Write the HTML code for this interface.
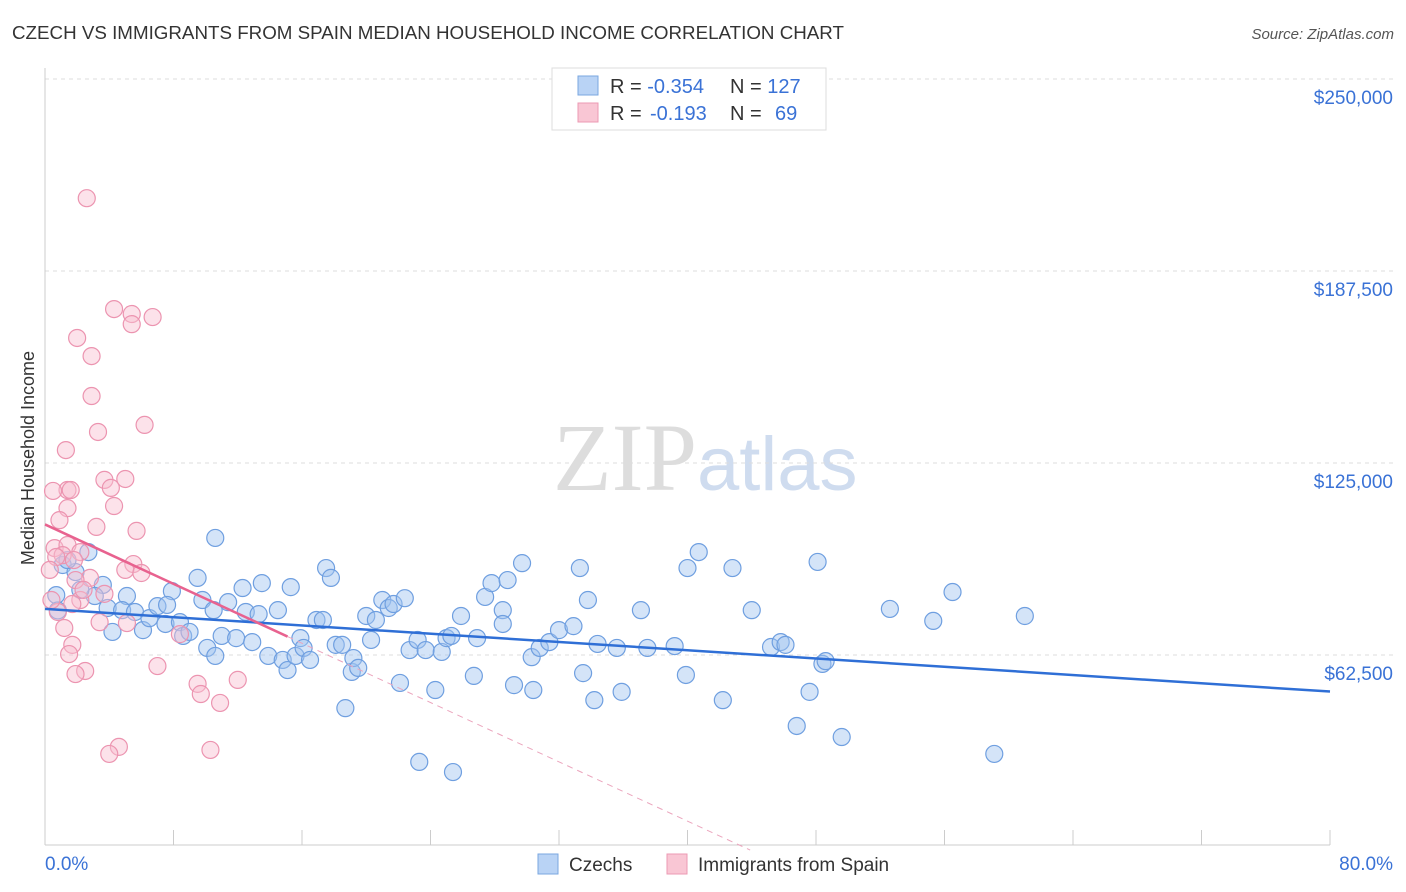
<!DOCTYPE html>
<html><head><meta charset="utf-8">
<style>
body{margin:0;background:#fff;font-family:"Liberation Sans",sans-serif;}
svg{display:block}
</style></head>
<body>
<svg id="chart" width="1406" height="892" viewBox="0 0 1406 892">
<text x="12" y="39" font-size="18" fill="#333" textLength="832" lengthAdjust="spacingAndGlyphs">CZECH VS IMMIGRANTS FROM SPAIN MEDIAN HOUSEHOLD INCOME CORRELATION CHART</text>
<text x="1394" y="39" font-size="15" fill="#555" text-anchor="end" font-style="italic">Source: ZipAtlas.com</text>
<text x="553" y="490" font-size="96" fill="#ddd" font-family="Liberation Serif">ZIP<tspan fill="#cfdcef" font-family="Liberation Sans" font-size="76">atlas</tspan></text>
<g id="grid"></g>
<g id="axes"></g>
<g id="pts"></g>
<g id="trend"></g>
<text transform="translate(34,458) rotate(-90)" font-size="18" fill="#333" text-anchor="middle">Median Household Income</text>
<g>
<rect x="552" y="68" width="274" height="62" fill="#fff" stroke="#ddd"/>
<rect x="578" y="76" width="20" height="19" fill="#b9d3f5" stroke="#7aa7e0"/>
<rect x="578" y="103" width="20" height="19" fill="#f9c6d4" stroke="#ec9ab3"/>
<text x="610" y="93" font-size="20" fill="#333">R = <tspan fill="#3a72d6">-0.354</tspan><tspan x="730">N = </tspan><tspan fill="#3a72d6">127</tspan></text>
<text x="610" y="120" font-size="20" fill="#333">R = <tspan fill="#3a72d6" x="650">-0.193</tspan><tspan x="730">N = </tspan><tspan fill="#3a72d6" x="775">69</tspan></text>
</g>
<g>
<rect x="538" y="854" width="20" height="20" fill="#b9d3f5" stroke="#7aa7e0"/>
<text x="569" y="871" font-size="19" fill="#333">Czechs</text>
<rect x="667" y="854" width="20" height="20" fill="#f9c6d4" stroke="#ec9ab3"/>
<text x="698" y="871" font-size="19" fill="#333">Immigrants from Spain</text>
</g>
</svg>
<script>
const blueX=[10.6,3.6,2.7,1.1,1.9,3.1,3.9,4.2,5.1,4.8,5.6,6.1,6.5,7,7.5,7.9,7.6,8.4,8.6,9,9.5,9.8,10.1,10.5,10.6,11,11.4,11.9,12.3,12.5,12.9,13.3,13.5,13.9,14.5,14.8,15.1,15.3,15.6,15.9,16.1,16.5,16.9,17.3,17.5,17.8,18.1,18.5,18.7,19.1,19.2,19.5,20,20.3,20.6,21,21.4,21.7,22.1,22.4,22.7,23.2,23.3,23.7,24.3,24.7,25,25.3,25.4,25.9,26.7,26.9,27.4,27.8,28.5,28.5,28.8,29.2,29.7,30.3,30.4,30.8,31.4,32,32.9,33.3,33.5,33.8,34.2,34.4,35.6,35.9,37.1,37.5,39.2,39.9,40,40.7,42.2,42.8,44,45.2,45.8,46.1,46.8,47.6,48.1,48.4,48.6,49.6,52.6,55.3,56.5,59.1,61,0.7,0.8,1.4,2.2];
const blueY=[100.6,85.3,96,91.8,89.5,81.7,77.8,70,81.7,77.1,76.5,70.6,74.5,78.4,72.6,83.3,78.8,73.2,68.7,70,87.6,80.4,64.8,77.1,62.2,68.7,79.7,68,84.3,76.5,66.7,75.8,85.9,62.2,77.1,60.9,57.6,84.6,62.2,68,64.8,60.9,73.9,73.9,90.8,87.6,65.8,65.8,45.2,57,61.5,58.3,75.2,67.4,73.9,80.4,77.8,79.1,53.4,81,64.1,67.4,27.7,64.1,51.1,63.5,68,68.7,24.4,75.2,55.7,68,81.4,85.9,77.1,72.6,86.9,52.7,92.4,61.8,51.1,64.8,66.7,70.6,71.9,90.8,56.6,80.4,47.8,66.1,64.8,50.5,77.1,64.8,65.4,56,90.8,96,47.8,90.8,77.1,65.1,66.7,65.8,39.4,50.5,92.8,59.6,60.5,35.8,77.5,73.6,83,30.3,75.2,82,77,93.4,83.7];
const pinkX=[2.6,4.3,5.4,6.7,5.4,2,2.9,2.9,3.3,6.2,1.3,3.7,5,4.1,1.4,1.6,0.5,4.3,1.4,3.2,0.9,5.7,0.6,1.4,1.1,2.2,0.7,1.8,5.5,5,6,2.8,1.9,3.7,2.2,1.7,0.8,3.4,5.1,1.2,8.4,1.7,1.5,7,2.5,1.9,9.5,12,9.7,10.9,4.6,4,10.3,0.3,0.4,2.4];
const pinkY=[211.2,175.1,173.5,172.5,170.2,165.7,159.8,146.8,135.1,137.4,129.2,119.5,119.8,116.9,116.2,116.2,115.9,111,110.3,104.2,106.4,102.9,97.3,98.3,95,96,94.4,93.4,92.1,90.2,89.2,87.6,86.9,82.4,80.4,79.1,76.5,73.2,72.9,71.3,69.3,65.8,62.8,58.9,57.3,56.3,53.1,54.4,49.8,46.9,32.6,30.3,31.6,90.2,80.4,83.7];
const yTicks=[62500,125000,187500,250000];
const yTickLabels=["$62,500","$125,000","$187,500","$250,000"];
const xTicks=[0,8,16,24,32,40,48,56,64,72,80];
const blueTrend=[[0,77.5],[80,50.6]];
const pinkTrend=[[0,105],[15.1,68.5]];
const pinkDash=[[15.1,68.5],[43.9,-1]];

const X=v=>45+v/80*1285;
const Y=v=>847-v/62500*192;
const NS="http://www.w3.org/2000/svg";
function mk(tag,attrs,parent){const e=document.createElementNS(NS,tag);for(const k in attrs)e.setAttribute(k,attrs[k]);parent.appendChild(e);return e;}
const grid=document.getElementById('grid'),axes=document.getElementById('axes'),pts=document.getElementById('pts'),tr=document.getElementById('trend');
yTicks.forEach((t,i)=>{
 const l=mk('line',{x1:45,x2:1394,y1:Y(t),y2:Y(t),stroke:'#ddd','stroke-dasharray':'4,4'},grid);
 
 
 const tx=mk('text',{x:1393,y:Y(t)+25,'font-size':19,fill:'#3a72d6','text-anchor':'end'},axes);
 tx.textContent=yTickLabels[i];
 
 
});
const ax=mk('line',{x1:45,x2:1330,y1:845,y2:845,stroke:'#ccc'},axes);


const ay=mk('line',{x1:45,x2:45,y1:68,y2:845,stroke:'#ccc'},axes);


xTicks.forEach(t=>{
 const l=mk('line',{x1:X(t),x2:X(t),y1:830,y2:845,stroke:'#ccc'},axes);
 
 
});
const xl0=mk('text',{x:45,y:870,'font-size':19,fill:'#3a72d6'},axes);xl0.textContent='0.0%';


const xl1=mk('text',{x:1393,y:870,'font-size':19,fill:'#3a72d6','text-anchor':'end'},axes);xl1.textContent='80.0%';


blueX.forEach((v,i)=>{
 const c=mk('circle',{cx:X(v),cy:Y(blueY[i]*1000),r:8.5,fill:'rgba(160,195,240,0.45)',stroke:'#6f9fe0','stroke-width':1.2},pts);
 
 
});
pinkX.forEach((v,i)=>{
 const c=mk('circle',{cx:X(v),cy:Y(pinkY[i]*1000),r:8.5,fill:'rgba(248,190,208,0.45)',stroke:'#ec94b0','stroke-width':1.2},pts);
 
 
});
const bl=mk('line',{x1:X(blueTrend[0][0]),y1:Y(blueTrend[0][1]*1000),x2:X(blueTrend[1][0]),y2:Y(blueTrend[1][1]*1000),stroke:'#2f6fd6','stroke-width':2.5},tr);


const pl=mk('line',{x1:X(pinkTrend[0][0]),y1:Y(pinkTrend[0][1]*1000),x2:X(pinkTrend[1][0]),y2:Y(pinkTrend[1][1]*1000),stroke:'#e8628f','stroke-width':2.5},tr);


const pd=mk('line',{x1:X(pinkDash[0][0]),y1:Y(pinkDash[0][1]*1000),x2:X(pinkDash[1][0]),y2:Y(pinkDash[1][1]*1000),stroke:'#eba5bd','stroke-width':1,'stroke-dasharray':'6,5'},tr);


</script>
</body></html>
